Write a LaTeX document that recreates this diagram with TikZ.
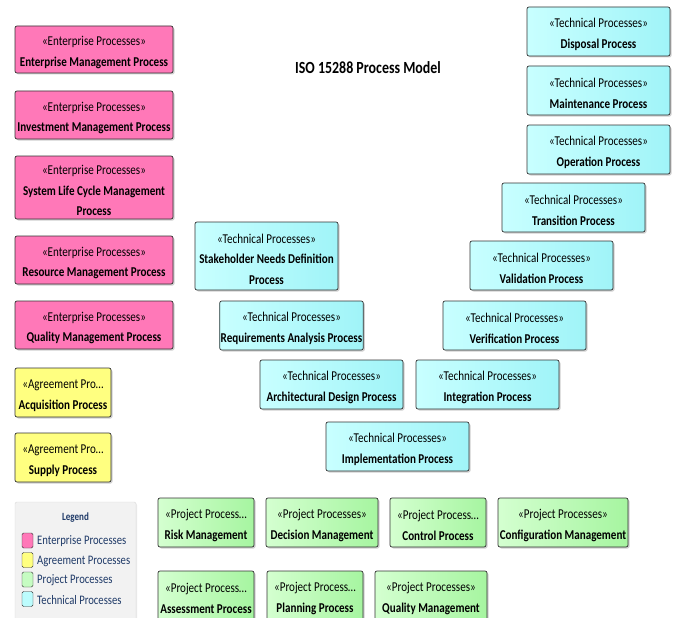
\documentclass[tikz,border=0pt]{standalone}
\usepackage{fontspec}
\setmainfont{Carlito}[FakeStretch=0.82]
\usetikzlibrary{shadows}
\definecolor{entc}{HTML}{FF78B8}
\definecolor{agrc}{HTML}{FFFF80}
\definecolor{prjL}{HTML}{D4FFD0}
\definecolor{prjR}{HTML}{A6F5A0}
\definecolor{tecL}{HTML}{C8FFFF}
\definecolor{tecR}{HTML}{A0F4F8}
\definecolor{legtext}{HTML}{1F3A68}
\newcommand{\toppad}{\rule{0pt}{15.5pt}}
\tikzset{
  box/.style={draw=black!80, line width=0.7pt, rounded corners=2pt, align=center,
    font=\fontsize{13.5}{20.5}\selectfont, inner sep=1pt,
    drop shadow={shadow xshift=1.5pt, shadow yshift=-1.5pt, fill=black!30, opacity=0.6}},
  entbox/.style={box, fill=entc, minimum width=158pt, minimum height=48pt},
  agrbox/.style={box, fill=agrc, minimum width=96pt, minimum height=49pt},
  prjbox/.style={box, left color=prjL, right color=prjR, minimum height=49pt},
  tecbox/.style={box, left color=tecL, right color=tecR, minimum width=143pt, minimum height=49pt},
  swatch/.style={draw=black!80, rounded corners=1.5pt, minimum width=11pt, minimum height=15pt, inner sep=0pt},
  legitem/.style={anchor=west, text=legtext, font=\fontsize{13}{15}\selectfont, inner sep=0pt}
}
\newcommand{\nm}[1]{\textbf{#1}}
\begin{document}
\begin{tikzpicture}[x=1pt,y=-1pt]
\useasboundingbox (0,0) rectangle (675,618);
\fill[white] (0,0) rectangle (675,618);
% title
\node[font=\fontsize{17}{19}\bfseries] (title) at (368,68) {ISO 15288 Process Model};
% enterprise
\node[entbox, minimum height=47pt] (ent1) at (94,49.5) {\toppad«Enterprise Processes»\\\nm{Enterprise Management Process}};
\node[entbox] (ent2) at (94,115) {\toppad«Enterprise Processes»\\\nm{Investment Management Process}};
\node[entbox, minimum height=63pt] (ent3) at (94,187.5) {\toppad«Enterprise Processes»\\\nm{System Life Cycle Management}\\\nm{Process}};
\node[entbox] (ent4) at (94,260) {\toppad«Enterprise Processes»\\\nm{Resource Management Process}};
\node[entbox] (ent5) at (94,325) {\toppad«Enterprise Processes»\\\nm{Quality Management Process}};
% agreement
\node[agrbox] (acq) at (63,392.5) {\toppad«Agreement Pro…\\\nm{Acquisition Process}};
\node[agrbox] (sup) at (63,457.5) {\toppad«Agreement Pro…\\\nm{Supply Process}};
% technical
\node[tecbox] (disp) at (598.5,31.5) {\toppad«Technical Processes»\\\nm{Disposal Process}};
\node[tecbox] (maint) at (598.5,90.5) {\toppad«Technical Processes»\\\nm{Maintenance Process}};
\node[tecbox] (oper) at (598.5,149.5) {\toppad«Technical Processes»\\\nm{Operation Process}};
\node[tecbox] (trans) at (573.5,207.5) {\toppad«Technical Processes»\\\nm{Transition Process}};
\node[tecbox] (valid) at (541.5,265.5) {\toppad«Technical Processes»\\\nm{Validation Process}};
\node[tecbox] (verif) at (514.5,325.5) {\toppad«Technical Processes»\\\nm{Verification Process}};
\node[tecbox] (integ) at (487.5,384.5) {\toppad«Technical Processes»\\\nm{Integration Process}};
\node[tecbox] (impl) at (397.5,446.5) {\toppad«Technical Processes»\\\nm{Implementation Process}};
\node[tecbox] (arch) at (331.5,384.5) {\toppad«Technical Processes»\\\nm{Architectural Design Process}};
\node[tecbox] (req) at (291.5,325.5) {\toppad«Technical Processes»\\\nm{Requirements Analysis Process}};
\node[tecbox, minimum height=68pt] (stake) at (266.5,256) {\toppad«Technical Processes»\\\nm{Stakeholder Needs Definition}\\\nm{Process}};
% project
\node[prjbox, minimum width=96pt] (risk) at (206,522.5) {\toppad«Project Process…\\\nm{Risk Management}};
\node[prjbox, minimum width=112pt] (dec) at (322,522.5) {\toppad«Project Processes»\\\nm{Decision Management}};
\node[prjbox, minimum width=96pt] (ctrl) at (438,522.5) {\toppad«Project Process…\\\nm{Control Process}};
\node[prjbox, minimum width=130pt] (conf) at (563,522.5) {\toppad«Project Processes»\\\nm{Configuration Management}};
\node[prjbox, minimum width=96pt] (assess) at (206,595.5) {\toppad«Project Process…\\\nm{Assessment Process}};
\node[prjbox, minimum width=96pt] (plan) at (315,595.5) {\toppad«Project Process…\\\nm{Planning Process}};
\node[prjbox, minimum width=112pt] (qual) at (431,595.5) {\toppad«Project Processes»\\\nm{Quality Management}};
% legend
\node[draw=black!15, fill=black!5, rounded corners=2pt, minimum width=121pt, minimum height=122pt, inner sep=0pt,
  drop shadow={shadow xshift=1pt, shadow yshift=-1pt, fill=black!15}] (legend) at (75.5,563) {};
\node[text=legtext, font=\fontsize{11}{12}\bfseries] (legtitle) at (75.5,518) {Legend};
\node[swatch, fill=entc] (sw1) at (27.5,540.5) {};
\node[swatch, fill=agrc] (sw2) at (27.5,560) {};
\node[swatch, fill=prjL!70!prjR] (sw3) at (27.5,579.5) {};
\node[swatch, fill=tecL!70!tecR] (sw4) at (27.5,599) {};
\node[legitem] (lt1) at (37,541) {Enterprise Processes};
\node[legitem] (lt2) at (37,561) {Agreement Processes};
\node[legitem] (lt3) at (37,580.5) {Project Processes};
\node[legitem] (lt4) at (37,600) {Technical Processes};
\end{tikzpicture}
\end{document}
